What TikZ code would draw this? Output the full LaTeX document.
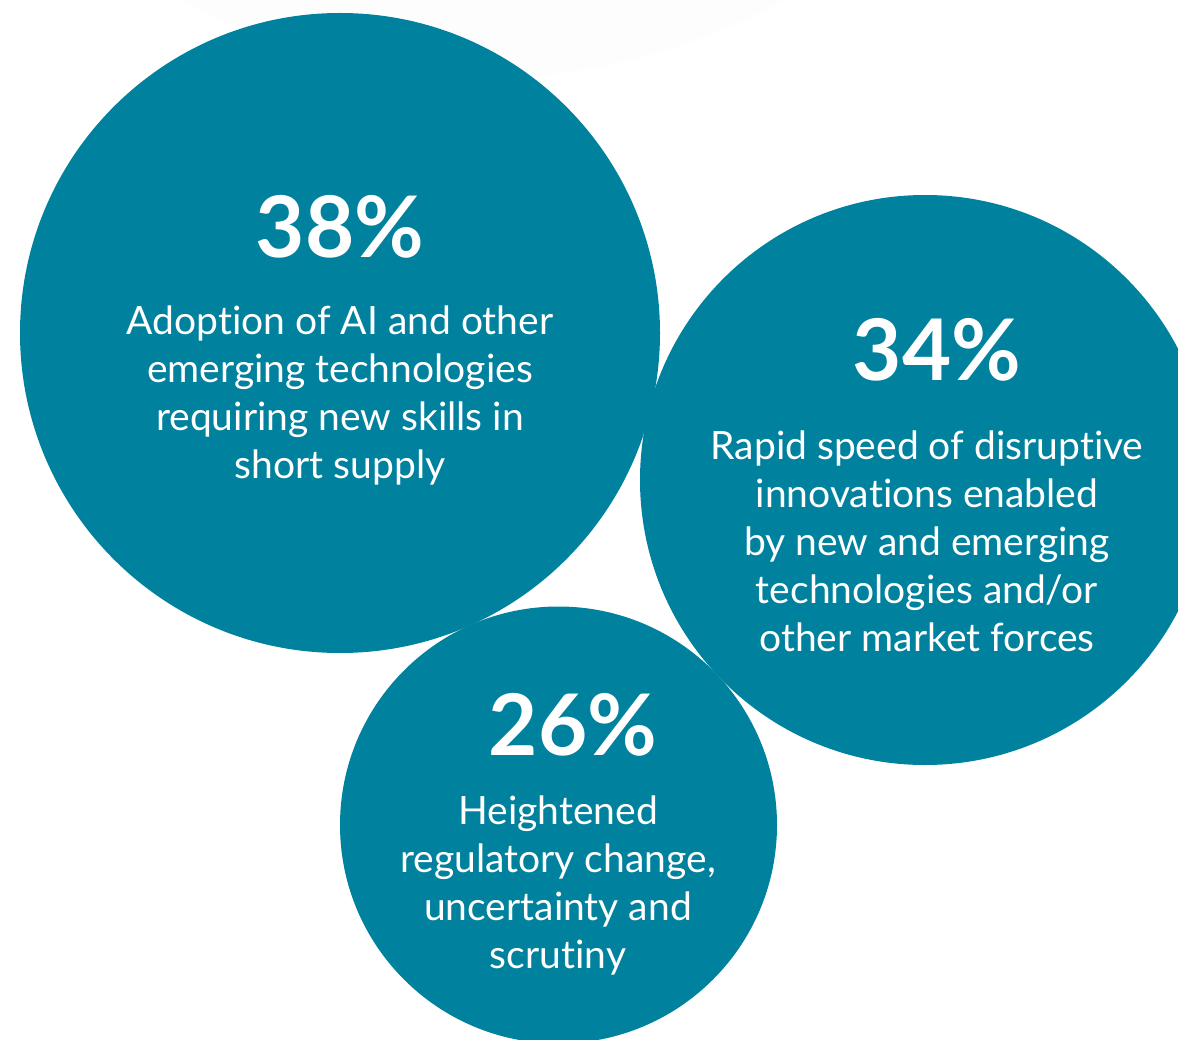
\documentclass[tikz,border=0pt]{standalone}
\usepackage{fontspec}
\setmainfont{Lato}[Ligatures=NoCommon]
\definecolor{bubblecol}{RGB}{0,129,158}
\definecolor{ghostcol}{RGB}{253,253,253}
\begin{document}
\begin{tikzpicture}[x=1pt,y=-1pt,
    bubble/.style={circle,fill=bubblecol,inner sep=0pt},
    pct/.style={text=white,anchor=base,inner sep=0pt,font=\fontsize{85}{85}\selectfont\bfseries},
    desc/.style={text=white,anchor=north,inner sep=0pt,align=center,font=\fontsize{39}{48}\selectfont}]
  \useasboundingbox (0,0) rectangle (1178,1040);
  \clip (0,0) rectangle (1178,1040);
  \fill[ghostcol] (483,-538) circle[radius=616];
  % the three bubbles
  \node[bubble,minimum size=640] (c38) at (340,333) {};
  \node[bubble,minimum size=570] (c34) at (925,480) {};
  \node[bubble,minimum size=437] (c26) at (558.5,825) {};
  % figures
  \node[pct] (p38) at (340,258) {38\%};
  \node[pct] (p34) at (937,381) {34\%};
  \node[pct] (p26) at (573,755) {26\%};
  % labels
  \node[desc] (t38) at (340,306) {Adoption of AI and other\\emerging technologies\\requiring new skills in\\short supply};
  \node[desc] (t34) at (927,431) {Rapid speed of disruptive\\innovations enabled\\by new and emerging\\technologies and/or\\other market forces};
  \node[desc] (t26) at (558,796) {Heightened\\regulatory change,\\uncertainty and\\scrutiny};
\end{tikzpicture}
\end{document}
